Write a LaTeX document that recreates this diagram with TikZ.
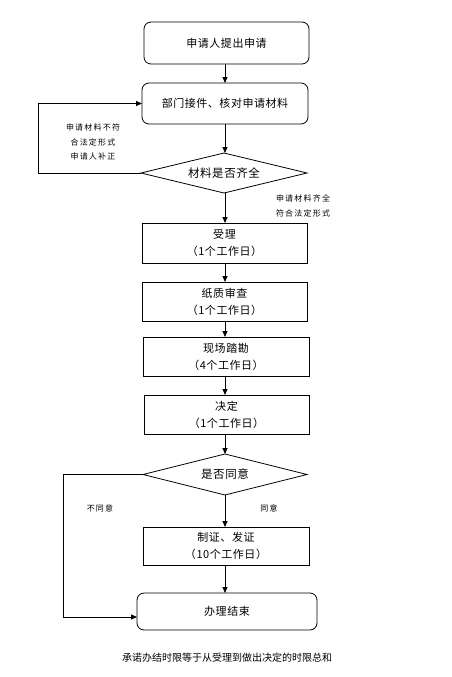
\documentclass[tikz,border=0pt]{standalone}
\usepackage{fontspec}
\setmainfont{Noto Sans CJK SC}
\newfontfamily\smallcjk[LetterSpace=15]{Noto Sans CJK SC}
\newfontfamily\boxcjk[LetterSpace=5]{Noto Sans CJK SC}
\usetikzlibrary{shapes.geometric,arrows.meta,calc}
\begin{document}
\begin{tikzpicture}[x=1pt,y=-1pt,
  every node/.style={inner sep=0pt,outer sep=0pt},
  box/.style={draw,line width=0.8pt,align=center,font=\boxcjk\fontsize{11}{17}\selectfont},
  rbox/.style={box,rounded corners=7pt},
  dec/.style={draw,line width=0.8pt,diamond,aspect=4,align=center,font=\boxcjk\fontsize{11.5}{14}\selectfont},
  arr/.style={line width=0.8pt,-{Triangle[length=6pt,width=5pt]}},
  lab/.style={align=center,font=\smallcjk\fontsize{8}{14.5}\selectfont},
  line/.style={line width=0.8pt}]
\useasboundingbox (0,0) rectangle (451,677);
\coordinate (X) at (225,0);
\node[rbox,minimum width=165pt,minimum height=42pt] (B1) at (226.5,43) {申请人提出申请};
\node[rbox,minimum width=166pt,minimum height=41pt] (B2) at (225,103.5) {部门接件、核对申请材料};
\node[dec,minimum width=166pt,minimum height=40pt] (D1) at (224,173) {材料是否齐全};
\node[box,minimum width=165pt,minimum height=40pt] (B3) at (224.5,243) {受理\\（1个工作日）};
\node[box,minimum width=165pt,minimum height=39pt] (B4) at (224.5,301.5) {纸质审查\\（1个工作日）};
\node[box,minimum width=166pt,minimum height=39pt] (B5) at (226,356.5) {现场踏勘\\（4个工作日）};
\node[box,minimum width=165pt,minimum height=39pt] (B6) at (226.5,414.5) {决定\\（1个工作日）};
\node[dec,minimum width=164pt,minimum height=41pt] (D2) at (225,474.5) {是否同意};
\node[box,minimum width=166pt,minimum height=38pt] (B7) at (226,546) {制证、发证\\（10个工作日）};
\node[rbox,minimum width=180pt,minimum height=37pt] (B8) at (227,611.5) {办理结束};

\node[lab] (L1) at (93,142) {申请材料不符\\合法定形式\\申请人补正};
\node[lab] (L2) at (303,206) {申请材料齐全\\符合法定形式};
\node[lab] (L3) at (100,508) {不同意};
\node[lab] (L4) at (269,508) {同意};
\node[font=\fontsize{10}{12}\selectfont] (N) at (227,658) {承诺办结时限等于从受理到做出决定的时限总和};

\draw[arr] (B1.south -| X) -- (B2.north -| X);
\draw[arr] (B2.south -| X) -- (D1.north -| X);
\draw[arr] (D1.south -| X) -- (B3.north -| X);
\draw[arr] (B3.south -| X) -- (B4.north -| X);
\draw[arr] (B4.south -| X) -- (B5.north -| X);
\draw[arr] (B5.south -| X) -- (B6.north -| X);
\draw[arr] (B6.south -| X) -- (D2.north -| X);
\draw[arr] (D2.south -| X) -- (B7.north -| X);
\draw[arr] (B7.south -| X) -- (B8.north -| X);
\draw[arr] (D1.west) -- ++(-103,0) |- (B2.west);
\draw[arr] (D2.west) -- ++(-80,0) |- ([yshift=-5.5pt]B8.west);
\end{tikzpicture}
\end{document}
